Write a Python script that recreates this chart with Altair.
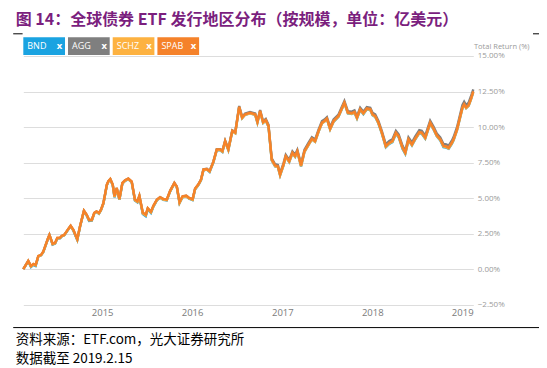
import altair as alt
import pandas as pd

# ---------------- data ----------------
dates = [
    "2014-02-15","2014-03-07","2014-03-18","2014-03-28","2014-04-06","2014-04-17","2014-04-28","2014-05-07","2014-05-25","2014-06-01",
    "2014-06-14","2014-06-24","2014-07-03","2014-07-14","2014-07-21","2014-07-31","2014-08-06","2014-08-17","2014-08-26","2014-09-06",
    "2014-09-13","2014-09-22","2014-10-03","2014-10-19","2014-10-30","2014-11-09","2014-11-20","2014-11-30","2014-12-09","2014-12-19",
    "2014-12-27","2015-01-06","2015-01-20","2015-01-26","2015-02-03","2015-02-13","2015-02-20","2015-03-01","2015-03-12","2015-03-24",
    "2015-04-04","2015-04-17","2015-05-01","2015-05-14","2015-05-24","2015-06-01","2015-06-15","2015-06-27","2015-07-05","2015-07-18",
    "2015-07-28","2015-08-11","2015-08-24","2015-09-06","2015-09-20","2015-10-04","2015-10-21","2015-10-31","2015-11-11","2015-11-23",
    "2015-12-08","2015-12-20","2016-01-03","2016-01-13","2016-01-27","2016-02-06","2016-02-16","2016-03-01","2016-03-12","2016-03-27",
    "2016-04-10","2016-04-24","2016-05-03","2016-05-14","2016-05-27","2016-06-12","2016-06-24","2016-07-10","2016-07-22","2016-08-03",
    "2016-08-23","2016-09-13","2016-09-22","2016-10-03","2016-10-15","2016-10-26","2016-11-06","2016-11-19","2016-12-03","2016-12-14",
    "2016-12-23","2017-01-06","2017-01-15","2017-01-29","2017-02-11","2017-02-22","2017-03-03","2017-03-18","2017-04-01","2017-04-17",
    "2017-05-01","2017-05-14","2017-05-28","2017-06-11","2017-06-21","2017-07-01","2017-07-14","2017-07-28","2017-08-17","2017-09-10",
    "2017-09-24","2017-10-10","2017-10-21","2017-10-31","2017-11-13","2017-11-26","2017-12-10","2017-12-24","2018-01-02","2018-01-13",
    "2018-01-26","2018-02-09","2018-02-25","2018-03-11","2018-03-24","2018-04-07","2018-04-18","2018-05-04","2018-05-15","2018-05-28",
    "2018-06-11","2018-06-24","2018-07-11","2018-07-21","2018-08-04","2018-08-24","2018-09-07","2018-09-20","2018-10-04","2018-10-17",
    "2018-10-28","2018-11-07","2018-11-20","2018-11-27","2018-12-11","2018-12-24","2019-01-02","2019-01-09","2019-01-17","2019-01-27",
    "2019-02-05","2019-02-15",
]

bnd = [
    0.00, 0.55, 0.15, 0.30, 0.22, 0.90, 0.97, 1.20, 2.08, 2.40,
    1.72, 1.80, 2.16, 2.17, 2.30, 2.38, 2.52, 2.80, 3.03, 2.72,
    2.42, 2.05, 2.97, 4.08, 3.78, 3.40, 3.42, 3.92, 4.02, 3.90,
    4.14, 4.60, 5.90, 6.15, 6.30, 5.90, 5.05, 5.66, 4.88, 6.02,
    6.21, 6.33, 6.10, 4.82, 4.70, 5.10, 3.88, 3.72, 4.22, 3.96,
    4.40, 4.84, 5.02, 4.88, 4.84, 5.47, 6.03, 5.76, 4.65, 5.06,
    5.12, 4.96, 4.86, 5.61, 5.94, 6.26, 6.96, 7.00, 6.84, 7.49,
    8.38, 8.37, 8.25, 8.97, 8.37, 9.70, 9.56, 11.40, 10.62, 10.86,
    10.97, 10.86, 10.30, 11.10, 10.28, 10.45, 10.02, 7.66, 7.22, 7.18,
    6.60, 7.31, 7.91, 7.54, 8.15, 7.90, 8.26, 7.23, 8.25, 8.73,
    9.14, 8.96, 9.67, 10.27, 10.38, 10.55, 9.83, 10.37, 10.72, 11.68,
    10.96, 10.92, 11.01, 10.60, 11.20, 10.91, 11.25, 11.20, 10.83, 10.71,
    10.25, 9.54, 8.58, 8.82, 8.94, 9.53, 9.29, 8.46, 8.11, 9.06,
    8.70, 9.11, 9.57, 9.53, 9.18, 10.24, 9.81, 9.34, 9.06, 8.59,
    8.55, 8.47, 8.82, 9.07, 9.78, 10.70, 11.33, 11.57, 11.33, 11.50,
    11.92, 12.46,
]

agg = [
    0.00, 0.58, 0.20, 0.35, 0.27, 0.92, 0.99, 1.22, 2.10, 2.41,
    1.76, 1.83, 2.19, 2.20, 2.33, 2.40, 2.55, 2.83, 3.05, 2.75,
    2.46, 2.09, 3.00, 4.11, 3.82, 3.45, 3.46, 3.95, 4.06, 3.94,
    4.17, 4.64, 5.94, 6.18, 6.34, 5.94, 5.10, 5.70, 4.92, 6.06,
    6.25, 6.37, 6.15, 4.87, 4.75, 5.15, 3.94, 3.80, 4.27, 4.02,
    4.45, 4.88, 5.06, 4.93, 4.88, 5.51, 6.07, 5.80, 4.70, 5.11,
    5.16, 5.00, 4.91, 5.66, 5.98, 6.31, 7.02, 7.06, 6.91, 7.56,
    8.45, 8.45, 8.33, 9.05, 8.46, 9.77, 9.65, 11.48, 10.72, 10.95,
    11.06, 10.96, 10.42, 11.20, 10.41, 10.57, 10.15, 7.80, 7.38, 7.33,
    6.75, 7.46, 8.05, 7.69, 8.29, 8.05, 8.40, 7.40, 8.41, 8.88,
    9.29, 9.12, 9.82, 10.42, 10.53, 10.70, 9.99, 10.53, 10.88, 11.83,
    11.12, 11.08, 11.17, 10.77, 11.36, 11.08, 11.41, 11.36, 11.00, 10.89,
    10.43, 9.72, 8.78, 9.02, 9.14, 9.73, 9.49, 8.68, 8.33, 9.27,
    8.91, 9.32, 9.78, 9.74, 9.39, 10.45, 10.02, 9.55, 9.27, 8.81,
    8.78, 8.69, 9.04, 9.29, 9.99, 10.92, 11.55, 11.78, 11.55, 11.71,
    12.13, 12.65,
]

schz = [
    0.00, 0.56, 0.19, 0.33, 0.26, 0.91, 0.98, 1.21, 2.09, 2.39,
    1.75, 1.82, 2.17, 2.18, 2.32, 2.39, 2.54, 2.82, 3.03, 2.74,
    2.45, 2.07, 2.98, 4.09, 3.80, 3.44, 3.44, 3.93, 4.04, 3.92,
    4.15, 4.62, 5.92, 6.16, 6.32, 5.92, 5.08, 5.68, 4.90, 6.04,
    6.22, 6.34, 6.13, 4.85, 4.73, 5.13, 3.92, 3.78, 4.25, 4.00,
    4.43, 4.86, 5.03, 4.90, 4.85, 5.49, 6.04, 5.77, 4.66, 5.08,
    5.13, 4.97, 4.88, 5.62, 5.95, 6.27, 6.98, 7.01, 6.86, 7.51,
    8.39, 8.39, 8.27, 8.98, 8.38, 9.70, 9.57, 11.39, 10.62, 10.86,
    10.97, 10.86, 10.31, 11.09, 10.29, 10.45, 10.03, 7.67, 7.24, 7.19,
    6.60, 7.32, 7.91, 7.55, 8.15, 7.91, 8.26, 7.24, 8.26, 8.73,
    9.14, 8.97, 9.67, 10.27, 10.38, 10.55, 9.84, 10.38, 10.73, 11.68,
    10.97, 10.93, 11.02, 10.62, 11.21, 10.93, 11.26, 11.21, 10.85, 10.73,
    10.27, 9.56, 8.61, 8.85, 8.97, 9.56, 9.32, 8.50, 8.15, 9.09,
    8.73, 9.14, 9.60, 9.56, 9.21, 10.27, 9.84, 9.37, 9.09, 8.63,
    8.59, 8.50, 8.85, 9.09, 9.79, 10.71, 11.33, 11.56, 11.33, 11.49,
    11.91, 12.46,
]

spab = [
    0.00, 0.59, 0.23, 0.37, 0.30, 0.94, 1.01, 1.24, 2.12, 2.42,
    1.79, 1.86, 2.21, 2.21, 2.35, 2.42, 2.57, 2.85, 3.06, 2.78,
    2.49, 2.12, 3.01, 4.12, 3.84, 3.48, 3.48, 3.96, 4.07, 3.96,
    4.19, 4.66, 5.96, 6.19, 6.35, 5.96, 5.13, 5.72, 4.95, 6.08,
    6.26, 6.38, 6.17, 4.90, 4.78, 5.18, 3.98, 3.84, 4.30, 4.05,
    4.47, 4.90, 5.07, 4.95, 4.90, 5.53, 6.08, 5.82, 4.72, 5.13,
    5.18, 5.02, 4.93, 5.67, 5.99, 6.31, 7.02, 7.05, 6.90, 7.55,
    8.43, 8.43, 8.31, 9.02, 8.43, 9.74, 9.61, 11.43, 10.67, 10.90,
    11.01, 10.90, 10.36, 11.14, 10.34, 10.50, 10.08, 7.72, 7.30, 7.25,
    6.66, 7.37, 7.96, 7.60, 8.20, 7.96, 8.31, 7.30, 8.31, 8.78,
    9.19, 9.02, 9.72, 10.32, 10.43, 10.60, 9.89, 10.43, 10.78, 11.73,
    11.02, 10.98, 11.07, 10.67, 11.26, 10.98, 11.31, 11.26, 10.90, 10.78,
    10.32, 9.61, 8.66, 8.90, 9.02, 9.61, 9.37, 8.55, 8.20, 9.14,
    8.78, 9.19, 9.65, 9.61, 9.26, 10.32, 9.89, 9.42, 9.14, 8.68,
    8.64, 8.55, 8.90, 9.14, 9.84, 10.76, 11.38, 11.61, 11.38, 11.54,
    11.96, 12.51,
]

tickers = ["BND", "AGG", "SCHZ", "SPAB"]
series = [bnd, agg, schz, spab]
colors = ["#1AA3E1", "#7F7F7F", "#FDB241", "#F5822A"]
y_ticks = [-2.5, 0, 2.5, 5, 7.5, 10, 12.5, 15]
x_years = [2015, 2016, 2017, 2018, 2019]

title_text = "图 14：全球债券 ETF 发行地区分布（按规模，单位：亿美元）"
source1 = "资料来源：ETF.com，光大证券研究所"
source2 = "数据截至 2019.2.15"
axis_title = "Total Return (%)"

# ---------------- chart ----------------
W, H = 450, 248.7

rows = []
for name, vals in zip(tickers, series):
    for d, v in zip(dates, vals):
        rows.append({"date": d, "ret": v, "etf": name})
df = pd.DataFrame(rows)

x_scale = alt.Scale(domain=[alt.DateTime(year=2014, month=2, date=15),
                            alt.DateTime(year=2019, month=2, date=15)])
y_scale = alt.Scale(domain=[-2.5, 15], nice=False, zero=False)

x_axis = alt.Axis(values=[alt.DateTime(year=y, month=1, date=1) for y in x_years],
                  format="%Y", title=None, ticks=False, domain=False, grid=False,
                  labelColor="#7A7A7A", labelFont="Open Sans", labelFontSize=9.5,
                  labelPadding=3)
y_axis = alt.Axis(orient="right", values=y_ticks, title=None, ticks=False, domain=False,
                  labelExpr="format(datum.value, '.2f') + '%'",
                  labelColor="#9A9A9A", labelFont="Open Sans", labelFontSize=8,
                  labelPadding=4, gridColor="#DDDDDD", gridWidth=1.2)

layers = []
# draw series in fixed order (BND bottom, SPAB top)
for i, name in enumerate(tickers):
    layers.append(
        alt.Chart(df).transform_filter(alt.datum.etf == name).mark_line(
            color=colors[i], strokeWidth=2.4).encode(
            x=alt.X("date:T", scale=x_scale, axis=x_axis),
            y=alt.Y("ret:Q", scale=y_scale, axis=y_axis),
        )
    )


def text_layer(txt, x, y, **kw):
    return alt.Chart(pd.DataFrame({"t": [txt]})).mark_text(**kw).encode(
        x=alt.value(x), y=alt.value(y), text="t:N")


def rule_layer(x1, x2, y, color="black", width=1):
    return alt.Chart(pd.DataFrame({"a": [0]})).mark_rule(color=color, strokeWidth=width).encode(
        x=alt.value(x1), x2=alt.value(x2), y=alt.value(y))


# title
layers.append(text_layer(title_text, -7.6, -36.4, align="left", baseline="middle",
                         font="Noto Sans CJK SC", fontSize=16, fontWeight="bold",
                         color="#7B1F7E"))
# short black rules at top
layers.append(rule_layer(-10.1, -0.7, -22.2))
layers.append(rule_layer(509.7, 520.2, -22.2))
# legend buttons
for i, name in enumerate(tickers):
    x0 = i * 44.7
    btn = alt.Chart(pd.DataFrame({"a": [0]})).mark_rect(color=colors[i]).encode(
        x=alt.value(x0), x2=alt.value(x0 + 41.7), y=alt.value(-18.7), y2=alt.value(-1))
    layers.append(btn)
    layers.append(text_layer(name, x0 + 4, -9.6, align="left", baseline="middle",
                             font="Open Sans", fontSize=9, color="white"))
    layers.append(text_layer("x", x0 + 36.2, -10.2, align="center", baseline="middle",
                             font="Open Sans", fontSize=9.5, fontWeight="bold", color="white"))
# axis title
layers.append(text_layer(axis_title, 450.7, -9.3, align="left", baseline="middle",
                         font="Open Sans", fontSize=7.5, color="#9A9A9A"))
# bottom rule and sources
layers.append(rule_layer(-10.1, 523.7, 271.6))
layers.append(text_layer(source1, -7.6, 283.8, align="left", baseline="middle",
                         font="Noto Sans CJK SC", fontSize=13.5, color="black"))
layers.append(text_layer(source2, -7.6, 303.5, align="left", baseline="middle",
                         font="Noto Sans CJK SC", fontSize=13.5, color="black"))

chart = alt.layer(*layers).properties(
    width=W, height=H,
    background="white",
    autosize=alt.AutoSizeParams(type="none"),
    padding={"left": 15.3, "top": 48, "right": 65.7, "bottom": 64},
).configure_view(strokeWidth=0, stroke="transparent")

chart.save("out.html", embed_options={"renderer": "svg", "actions": False})
